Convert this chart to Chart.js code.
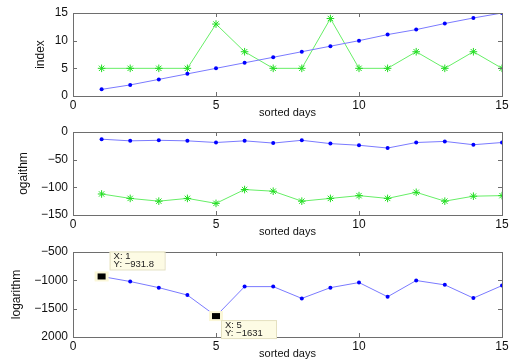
<!DOCTYPE html>
<html>
<head>
<meta charset="utf-8">
<script src="https://cdn.jsdelivr.net/npm/chart.js@4"></script>
<style>
  html, body { margin: 0; padding: 0; background: #fff; }
  #wrap { position: relative; width: 515px; height: 361px; background: #fff; }
  .panel { position: absolute; left: 0; width: 515px; }
</style>
</head>
<body>
<div id="wrap">
  <div class="panel" style="top:0;height:120px"><canvas id="c1" width="515" height="120"></canvas></div>
  <div class="panel" style="top:119px;height:120px"><canvas id="c2" width="515" height="120"></canvas></div>
  <div class="panel" style="top:239px;height:122px"><canvas id="c3" width="515" height="122"></canvas></div>
</div>
<script>
// x positions (sorted days)
const days = [1, 2, 3, 4, 5, 6, 7, 8, 9, 10, 11, 12, 13, 14, 15];

// panel 1: index
const indexBlue  = [1.2, 2, 3, 4, 5, 6, 7, 8, 9, 10, 11.1, 12, 13.1, 14.1, 15];
const indexGreen = [5, 5, 5, 5, 13, 8, 5, 5, 14, 5, 5, 8, 5, 8, 5];

// panel 2: logarithm of the two series
const logBlue  = [-13, -16, -15, -16, -19, -16, -20, -15, -21, -24, -29, -19, -17, -23, -19];
const logGreen = [-112, -120, -125, -120, -129, -104, -107, -125, -120, -115, -120, -109, -125, -116, -115];

// panel 3: summed logarithm
const logSum = [-931.8, -1021, -1129, -1260, -1631, -1111, -1111, -1319, -1129, -1039, -1290, -1003, -1080, -1313, -1093];

// data tips shown on panel 3 (indices into days/logSum)
const tipIndices = [0, 4];

// axis ranges and tick steps
const xRange = [0, 15], xStep = 5;
const yRange1 = [0, 15], yStep1 = 5;
const yRange2 = [-150, 0], yStep2 = 50;
const yRange3 = [-2000, -500], yStep3 = 500;

const FONT = "'Liberation Sans', Arial, Helvetica, sans-serif";
const minusFix = v => String(v).replace('-', '\u2212');

function pts(ys) { return days.map((d, i) => ({ x: d, y: ys[i] })); }

// MATLAB-like box with inward tick marks on all four sides
const boxPlugin = {
  id: 'box',
  afterDraw(chart) {
    const { ctx, chartArea: a, scales } = chart;
    ctx.save();
    ctx.strokeStyle = '#6e6e6e';
    ctx.lineWidth = 1;
    ctx.strokeRect(Math.round(a.left) + 0.5, Math.round(a.top) + 0.5,
                   Math.round(a.right - a.left), Math.round(a.bottom - a.top));
    const t = 4;
    ctx.beginPath();
    scales.x.ticks.forEach(tk => {
      const x = Math.round(scales.x.getPixelForValue(tk.value)) + 0.5;
      ctx.moveTo(x, a.bottom); ctx.lineTo(x, a.bottom - t);
      ctx.moveTo(x, a.top); ctx.lineTo(x, a.top + t);
    });
    scales.y.ticks.forEach(tk => {
      const y = Math.round(scales.y.getPixelForValue(tk.value)) + 0.5;
      ctx.moveTo(a.left, y); ctx.lineTo(a.left + t, y);
      ctx.moveTo(a.right, y); ctx.lineTo(a.right - t, y);
    });
    ctx.stroke();
    ctx.restore();
  }
};

// data tip boxes on the summed-logarithm panel
const tipPlugin = {
  id: 'tips',
  afterDraw(chart, args, opts) {
    if (!opts.enabled) return;
    const { ctx, scales } = chart;
    ctx.save();
    tipIndices.forEach((idx, k) => {
      const px = scales.x.getPixelForValue(days[idx]);
      const py = scales.y.getPixelForValue(logSum[idx]);
      // marker with pale halo
      ctx.fillStyle = '#fbf7d8';
      ctx.fillRect(px - 7, py - 5, 14, 10);
      ctx.fillStyle = '#000';
      ctx.fillRect(px - 4, py - 3, 8, 6);
      // label box
      const bx = k === 0 ? px + 8 : px + 5;
      const by = k === 0 ? py - 25 : py + 4;
      const bw = 55, bh = 18;
      ctx.fillStyle = '#fdfbe4';
      ctx.fillRect(bx, by, bw, bh);
      ctx.strokeStyle = '#e4e0c0';
      ctx.strokeRect(bx + 0.5, by + 0.5, bw, bh);
      ctx.fillStyle = '#222';
      ctx.font = '9.5px ' + FONT;
      ctx.textBaseline = 'middle';
      ctx.textAlign = 'left';
      ctx.fillText('X: ' + days[idx], bx + 4, by + 5);
      ctx.fillText('Y: ' + minusFix(logSum[idx]), bx + 4, by + 13);
    });
    ctx.restore();
  }
};

function blueSet(data) {
  return {
    data: pts(data), borderColor: '#7a7aff', borderWidth: 1,
    pointRadius: 2, pointBackgroundColor: '#0000ff', pointBorderColor: '#0000ff',
    pointBorderWidth: 0, tension: 0
  };
}
function greenSet(data) {
  return {
    data: pts(data), borderColor: '#66ee66', borderWidth: 1,
    pointStyle: 'star', pointRadius: 3.8, pointBorderColor: '#22dd22',
    pointBorderWidth: 1, tension: 0
  };
}

function makeChart(id, datasets, yRange, yStep, yTitle, padLeft, xHeight, tipOn, tickFmt) {
  return new Chart(document.getElementById(id), {
    type: 'line',
    data: { datasets },
    options: {
      responsive: false, animation: false, devicePixelRatio: 1,
      layout: { padding: { left: padLeft, right: 13, top: 13, bottom: 0 } },
      plugins: { legend: { display: false }, tooltip: { enabled: false }, tips: { enabled: tipOn } },
      scales: {
        x: {
          type: 'linear', min: xRange[0], max: xRange[1],
          ticks: { stepSize: xStep, padding: 2, color: '#111', font: { family: FONT, size: 12 } },
          grid: { display: false, drawTicks: false },
          border: { display: false },
          title: { display: true, text: 'sorted days', color: '#111', padding: 0, font: { family: FONT, size: 11 } },
          afterFit: s => { s.height = xHeight; }
        },
        y: {
          min: yRange[0], max: yRange[1],
          ticks: { stepSize: yStep, padding: 5, color: '#111', font: { family: FONT, size: 12 }, callback: tickFmt },
          grid: { display: false, drawTicks: false },
          border: { display: false },
          title: { display: true, text: yTitle, color: '#111', padding: 0, font: { family: FONT, size: 12 } },
          afterFit: s => { s.width = 73 - padLeft; }
        }
      }
    },
    plugins: [boxPlugin, tipPlugin]
  });
}

makeChart('c1', [blueSet(indexBlue), greenSet(indexGreen)], yRange1, yStep1, 'index', 33, 24, false, v => minusFix(v));
makeChart('c2', [blueSet(logBlue), greenSet(logGreen)], yRange2, yStep2, 'ogaithm', 16, 24, false, v => minusFix(v));
makeChart('c3', [blueSet(logSum)], yRange3, yStep3, 'logarithm', 9, 24, true,
  v => (v === yRange3[0] ? String(-v) : minusFix(v)));
</script>
</body>
</html>
